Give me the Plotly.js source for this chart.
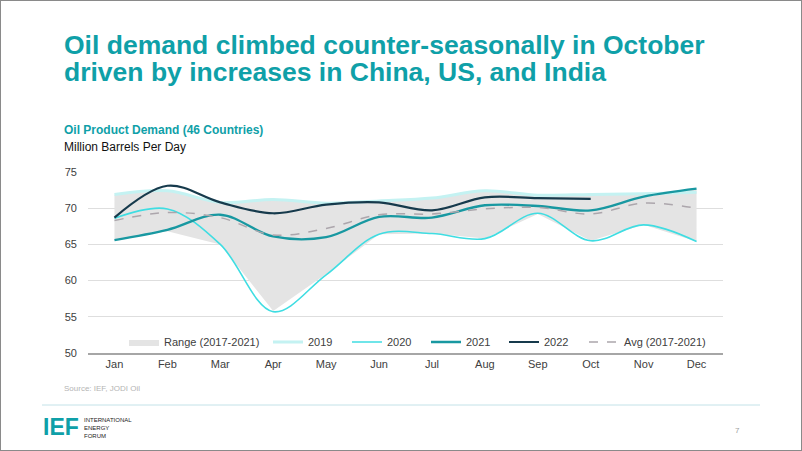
<!DOCTYPE html>
<html>
<head>
<meta charset="utf-8">
<script src="https://cdn.plot.ly/plotly-3.0.1.min.js"></script>
<style>
  html, body { margin: 0; padding: 0; background: #ffffff; }
  #chart { width: 802px; height: 451px; }
  #frame { position: absolute; left: 0; top: 0; width: 802px; height: 451px; box-sizing: border-box; border: 1px solid #8a8a8a; pointer-events: none; }
</style>
</head>
<body>
<div id="chart"></div>
<div id="frame"></div>
<script>
// ---- Data (Million Barrels Per Day) ----
const months = ["Jan","Feb","Mar","Apr","May","Jun","Jul","Aug","Sep","Oct","Nov","Dec"];
const rangeLow  = [65.6, 66.8, 65.0, 55.8, 60.9, 66.4, 66.5, 65.8, 69.2, 65.5, 67.7, 65.4];
const rangeHigh = [71.9, 72.4, 70.9, 71.2, 70.7, 71.0, 71.4, 72.4, 71.8, 71.9, 72.0, 72.7];
const y2019 = [71.9, 72.4, 70.8, 71.2, 70.7, 71.0, 71.4, 72.4, 71.8, 71.9, 72.0, 72.2];
const y2020 = [68.6, 69.9, 65.0, 55.7, 60.8, 66.4, 66.5, 65.8, 69.3, 65.5, 67.7, 65.4];
const y2021 = [65.6, 67.0, 69.1, 66.1, 66.0, 68.8, 68.7, 70.4, 70.3, 69.7, 71.6, 72.7];
const y2022 = [68.7, 73.1, 70.8, 69.3, 70.5, 70.8, 69.7, 71.5, 71.4, 71.3];
const avg1721 = [68.3, 69.4, 68.7, 66.3, 67.2, 69.1, 69.2, 69.9, 70.1, 69.2, 70.7, 70.0];
const yTicks = [50, 55, 60, 65, 70, 75];

const teal = "#0fa0a8";
const font = "Arial, 'Liberation Sans', sans-serif";

const traces = [
  { x: months, y: rangeLow, type: "scatter", mode: "lines", line: {width: 0}, hoverinfo: "skip", showlegend: false },
  { x: months, y: rangeHigh, type: "scatter", mode: "lines", fill: "tonexty", fillcolor: "#e4e4e4",
    line: {width: 0, color: "#e4e4e4"}, name: "Range (2017-2021)", legend: "legend" },
  { x: months, y: y2019, type: "scatter", mode: "lines", name: "2019", legend: "legend2",
    line: {color: "#c4f2f2", width: 3, shape: "spline", smoothing: 1} },
  { x: months, y: y2020, type: "scatter", mode: "lines", name: "2020", legend: "legend3",
    line: {color: "#3fdde2", width: 1.6, shape: "spline", smoothing: 1} },
  { x: months, y: y2021, type: "scatter", mode: "lines", name: "2021", legend: "legend4",
    line: {color: "#1898a1", width: 2.4, shape: "spline", smoothing: 1} },
  { x: months.slice(0, y2022.length), y: y2022, type: "scatter", mode: "lines", name: "2022", legend: "legend5",
    line: {color: "#163a4c", width: 2.2, shape: "spline", smoothing: 1} },
  { x: months, y: avg1721, type: "scatter", mode: "lines", name: "Avg (2017-2021)", legend: "legend6",
    line: {color: "#aca6ac", width: 1.5, dash: "dash", shape: "spline", smoothing: 1} }
];

const W = 802, H = 451;
const mL = 88, mR = 79, mT = 172, mB = 98;
const pw = W - mL - mR, ph = H - mT - mB;
const px = (x) => (x - mL) / pw;          // page x -> paper x
const py = (y) => (H - mB - y) / ph;      // page y -> paper y

function leg(textStart) {
  return {
    orientation: "h", x: px(textStart - 40), xanchor: "left", y: py(342), yanchor: "middle",
    bgcolor: "rgba(0,0,0,0)", borderwidth: 0, font: {family: font, size: 11, color: "#404040"},
    itemwidth: 30
  };
}

const layout = {
  width: W, height: H,
  margin: {l: mL, r: mR, t: mT, b: mB, pad: 0},
  paper_bgcolor: "#ffffff", plot_bgcolor: "#ffffff",
  font: {family: font, size: 11, color: "#404040"},
  xaxis: {
    type: "category", range: [-0.5, 11.5], showgrid: false, zeroline: false,
    showline: true, linecolor: "#a6a6a6", linewidth: 1.5, ticks: "",
    tickfont: {family: font, size: 11, color: "#404040"}, fixedrange: true
  },
  yaxis: {
    range: [50, 75], tickvals: yTicks, ticktext: yTicks.map(String),
    showgrid: true, gridcolor: "#dedede", gridwidth: 1, zeroline: false, showline: false,
    ticks: "", ticklabelstandoff: 10,
    tickfont: {family: font, size: 11, color: "#404040"}, fixedrange: true
  },
  showlegend: true,
  legend: leg(164),
  legend2: leg(308),
  legend3: leg(387),
  legend4: leg(466),
  legend5: leg(544),
  legend6: leg(624),
  annotations: [
    {xref: "paper", yref: "paper", x: px(62), y: py(28), xanchor: "left", yanchor: "top",
     text: "<b>Oil demand climbed counter-seasonally in October</b>", showarrow: false,
     font: {family: font, size: 26.5, color: teal}},
    {xref: "paper", yref: "paper", x: px(62), y: py(55), xanchor: "left", yanchor: "top",
     text: "<b>driven by increases in China, US, and India</b>", showarrow: false,
     font: {family: font, size: 26.5, color: teal}},
    {xref: "paper", yref: "paper", x: px(62), y: py(130), xanchor: "left", yanchor: "middle",
     text: "<b>Oil Product Demand (46 Countries)</b>", showarrow: false,
     font: {family: font, size: 12, color: teal}},
    {xref: "paper", yref: "paper", x: px(62), y: py(147), xanchor: "left", yanchor: "middle",
     text: "Million Barrels Per Day", showarrow: false,
     font: {family: font, size: 12, color: "#111111"}},
    {xref: "paper", yref: "paper", x: px(62), y: py(388), xanchor: "left", yanchor: "middle",
     text: "Source: IEF, JODI Oil", showarrow: false,
     font: {family: font, size: 8, color: "#b4b4b4"}},
    {xref: "paper", yref: "paper", x: px(41), y: py(427), xanchor: "left", yanchor: "middle",
     text: "<b>IEF</b>", showarrow: false,
     font: {family: font, size: 23, color: teal}},
    {xref: "paper", yref: "paper", x: px(82), y: py(428), xanchor: "left", yanchor: "middle",
     text: "INTERNATIONAL<br>ENERGY<br>FORUM", showarrow: false, align: "left",
     font: {family: font, size: 6, color: "#222222"}},
    {xref: "paper", yref: "paper", x: px(737), y: py(430), xanchor: "center", yanchor: "middle",
     text: "7", showarrow: false,
     font: {family: font, size: 8, color: "#a0a0a0"}}
  ],
  shapes: [
    {type: "line", xref: "paper", yref: "paper", x0: px(42), x1: px(760), y0: py(405), y1: py(405),
     line: {color: "#c3e2e8", width: 1}}
  ]
};

Plotly.newPlot("chart", traces, layout, {displayModeBar: false, staticPlot: true});
</script>
</body>
</html>
